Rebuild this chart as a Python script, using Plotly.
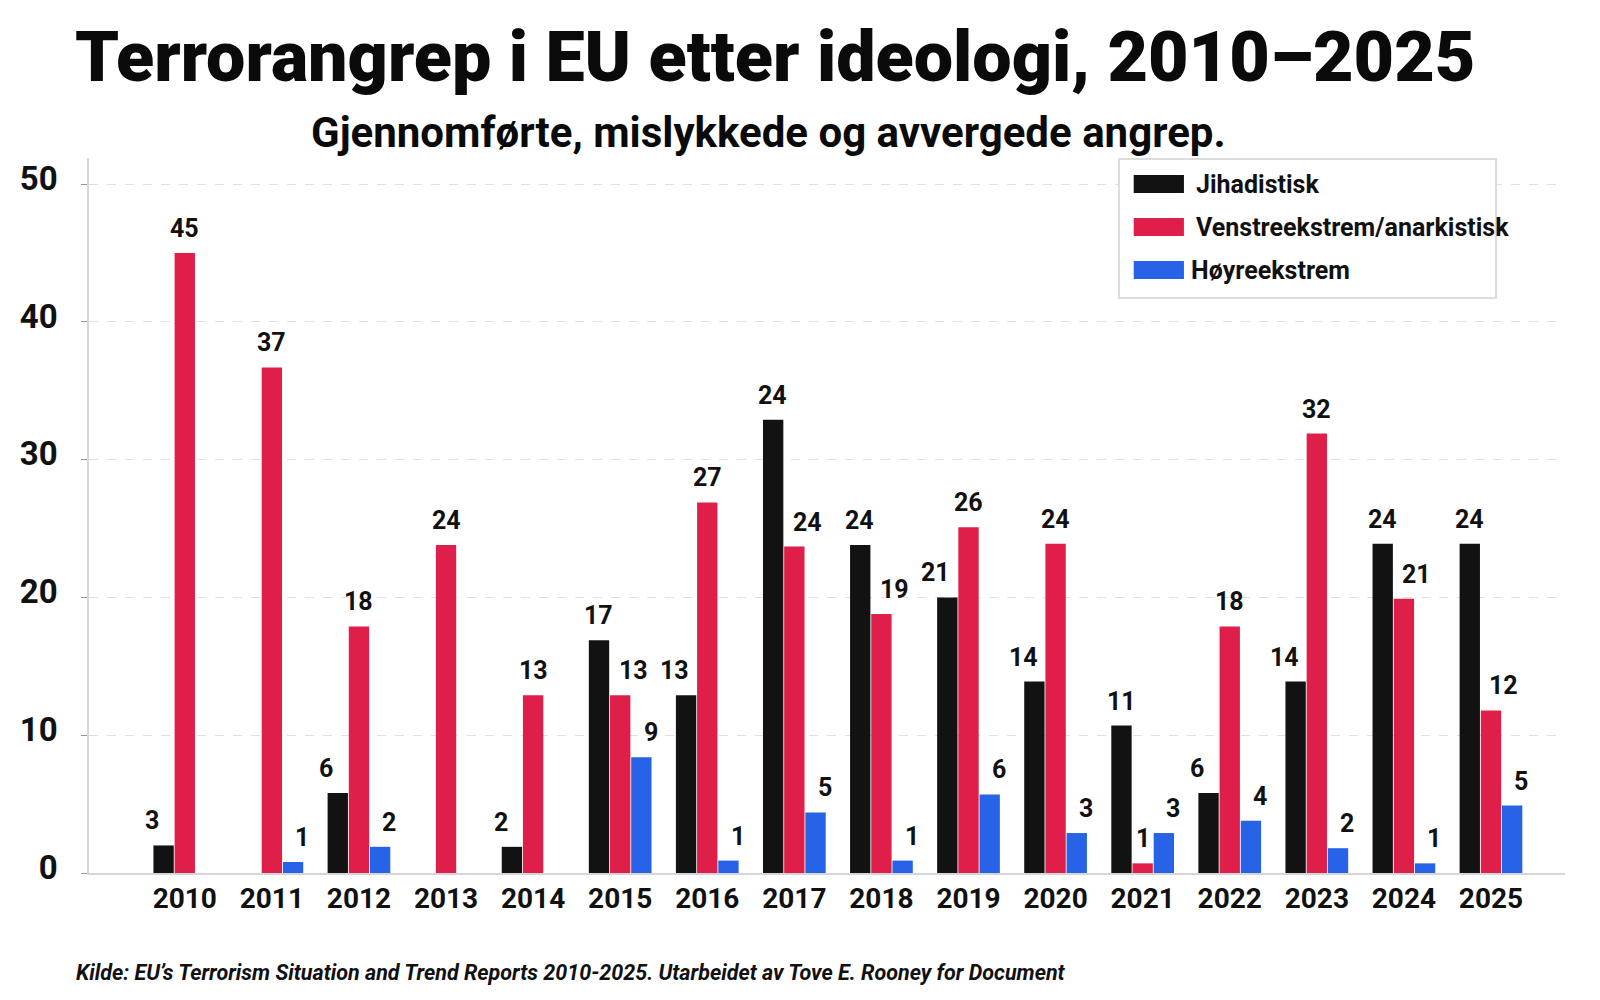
import plotly.graph_objects as go

# data
years = [str(y) for y in range(2010, 2026)]
series_names = ["Jihadistisk", "Venstreekstrem/anarkistisk", "Høyreekstrem"]

# bar heights as drawn
jihad_bar = [2, None, 5.8, None, 1.9, 16.9, 12.9, 32.9, 23.8, 20.0, 13.9, 10.7, 5.8, 13.9, 23.9, 23.9]
left_bar = [45, 36.7, 17.9, 23.8, 12.9, 12.9, 26.9, 23.7, 18.8, 25.1, 23.9, 0.7, 17.9, 31.9, 19.9, 11.8]
right_bar = [None, 0.8, 1.9, None, None, 8.4, 0.9, 4.4, 0.9, 5.7, 2.9, 2.9, 3.8, 1.8, 0.7, 4.9]

# numbers printed above the bars
jihad_lab = ["3", "", "6", "", "2", "17", "13", "24", "24", "21", "14", "11", "6", "14", "24", "24"]
left_lab = ["45", "37", "18", "24", "13", "13", "27", "24", "19", "26", "24", "1", "18", "32", "21", "12"]
right_lab = ["", "1", "2", "", "", "9", "1", "5", "1", "6", "3", "3", "4", "2", "1", "5"]

colors = ["#121212", "#E01E4A", "#2663E6"]
y_ticks = [0, 10, 20, 30, 40, 50]

W, H = 1600, 1000
L, R, T, B = 58, 43, 150, 135
PW, PH = W - L - R, H - T - B
X_RANGE = [-1.1, 15.85]
BARGAP = 0.27


def px(x):
    return (x - L) / PW


def py(y):
    return (H - B - y) / PH


FONT = "Roboto"

fig = go.Figure()
bar_w = PW / (X_RANGE[1] - X_RANGE[0]) * (1 - BARGAP) / 3
all_bars = [jihad_bar, left_bar, right_bar]
all_labs = [jihad_lab, left_lab, right_lab]
for i, (name, vals, col) in enumerate(zip(series_names, all_bars, colors)):
    fig.add_trace(go.Bar(x=years, y=vals, name=name, marker_color=col,
                         marker_line_width=0, showlegend=False))

# value labels above each bar, nudged away from a taller neighbour
for j in range(len(years)):
    jv, lv, rv = (all_bars[k][j] or 0 for k in range(3))
    for i in range(3):
        lab = all_labs[i][j]
        if not lab:
            continue
        v = all_bars[i][j] or 0
        nudge = 0
        if i == 0 and lv > jv:
            nudge = -11
        elif i == 1 and jv > lv and rv < lv:
            nudge = 13
        elif i == 2:
            nudge = 9
        fig.add_annotation(x=j, y=v, xref="x", yref="y", text=lab, showarrow=False,
                           xanchor="center", yanchor="bottom", yshift=8,
                           xshift=(i - 1) * bar_w + nudge,
                           font=dict(family=FONT, size=25, color="#111", weight=700))

fig.update_layout(
    width=W, height=H,
    margin=dict(l=L, r=R, t=T, b=B),
    paper_bgcolor="white", plot_bgcolor="white",
    barmode="group", bargap=BARGAP, bargroupgap=0.04,
    font=dict(family=FONT, color="#111"),
    xaxis=dict(
        type="category", range=X_RANGE, showgrid=False, showline=True, linecolor="#d6d6d6",
        linewidth=1.5, ticks="",
        tickfont=dict(family=FONT, size=28, color="#111", weight=700),
    ),
    yaxis=dict(
        range=[0, 51.9], tickvals=y_ticks, showgrid=True, gridcolor="#e0e0e0",
        griddash="dash", gridwidth=1, zeroline=False, showline=True,
        linecolor="#d6d6d6", linewidth=1.5, ticks="outside", ticklen=6,
        tickcolor="#999", tickfont=dict(family=FONT, size=33, color="#111", weight=700),
        ticklabelstandoff=17, ticklabelshift=-6,
    ),
)

# titles and source
fig.add_annotation(x=px(42), y=py(49), xref="paper", yref="paper", xanchor="left", yanchor="middle",
                   text="Terrorangrep i EU etter ideologi, 2010–2025", showarrow=False,
                   font=dict(family=FONT, size=70, color="#0a0a0a", weight=900))
fig.add_annotation(x=px(748), y=py(124), xref="paper", yref="paper", xanchor="center", yanchor="middle",
                   text="Gjennomførte, mislykkede og avvergede angrep.", showarrow=False,
                   font=dict(family=FONT, size=42, color="#0a0a0a", weight=700))
fig.add_annotation(x=px(43), y=py(964), xref="paper", yref="paper", xanchor="left", yanchor="middle",
                   text="<i>Kilde: EU’s Terrorism Situation and Trend Reports 2010-2025. Utarbeidet av Tove E. Rooney for Document</i>",
                   showarrow=False, font=dict(family=FONT, size=21.5, color="#111", weight=700))

# legend box drawn by hand (wide swatches)
fig.add_shape(type="rect", xref="paper", yref="paper", x0=px(1104), x1=px(1487), y0=py(290), y1=py(151),
              line=dict(color="#dcdcdc", width=2), fillcolor="white", layer="above")
sw_y = [176, 219, 262]
txt_x = [1180, 1180, 1175]
for name, col, yc, tx in zip(series_names, colors, sw_y, txt_x):
    fig.add_shape(type="rect", xref="paper", yref="paper", x0=px(1119), x1=px(1170),
                  y0=py(yc + 9), y1=py(yc - 9), line_width=0, fillcolor=col, layer="above")
    fig.add_annotation(x=px(tx), y=py(yc), xref="paper", yref="paper", xanchor="left", yanchor="middle",
                       text=name, showarrow=False,
                       font=dict(family=FONT, size=25, color="#111", weight=700))

fig.write_html("out.html")
